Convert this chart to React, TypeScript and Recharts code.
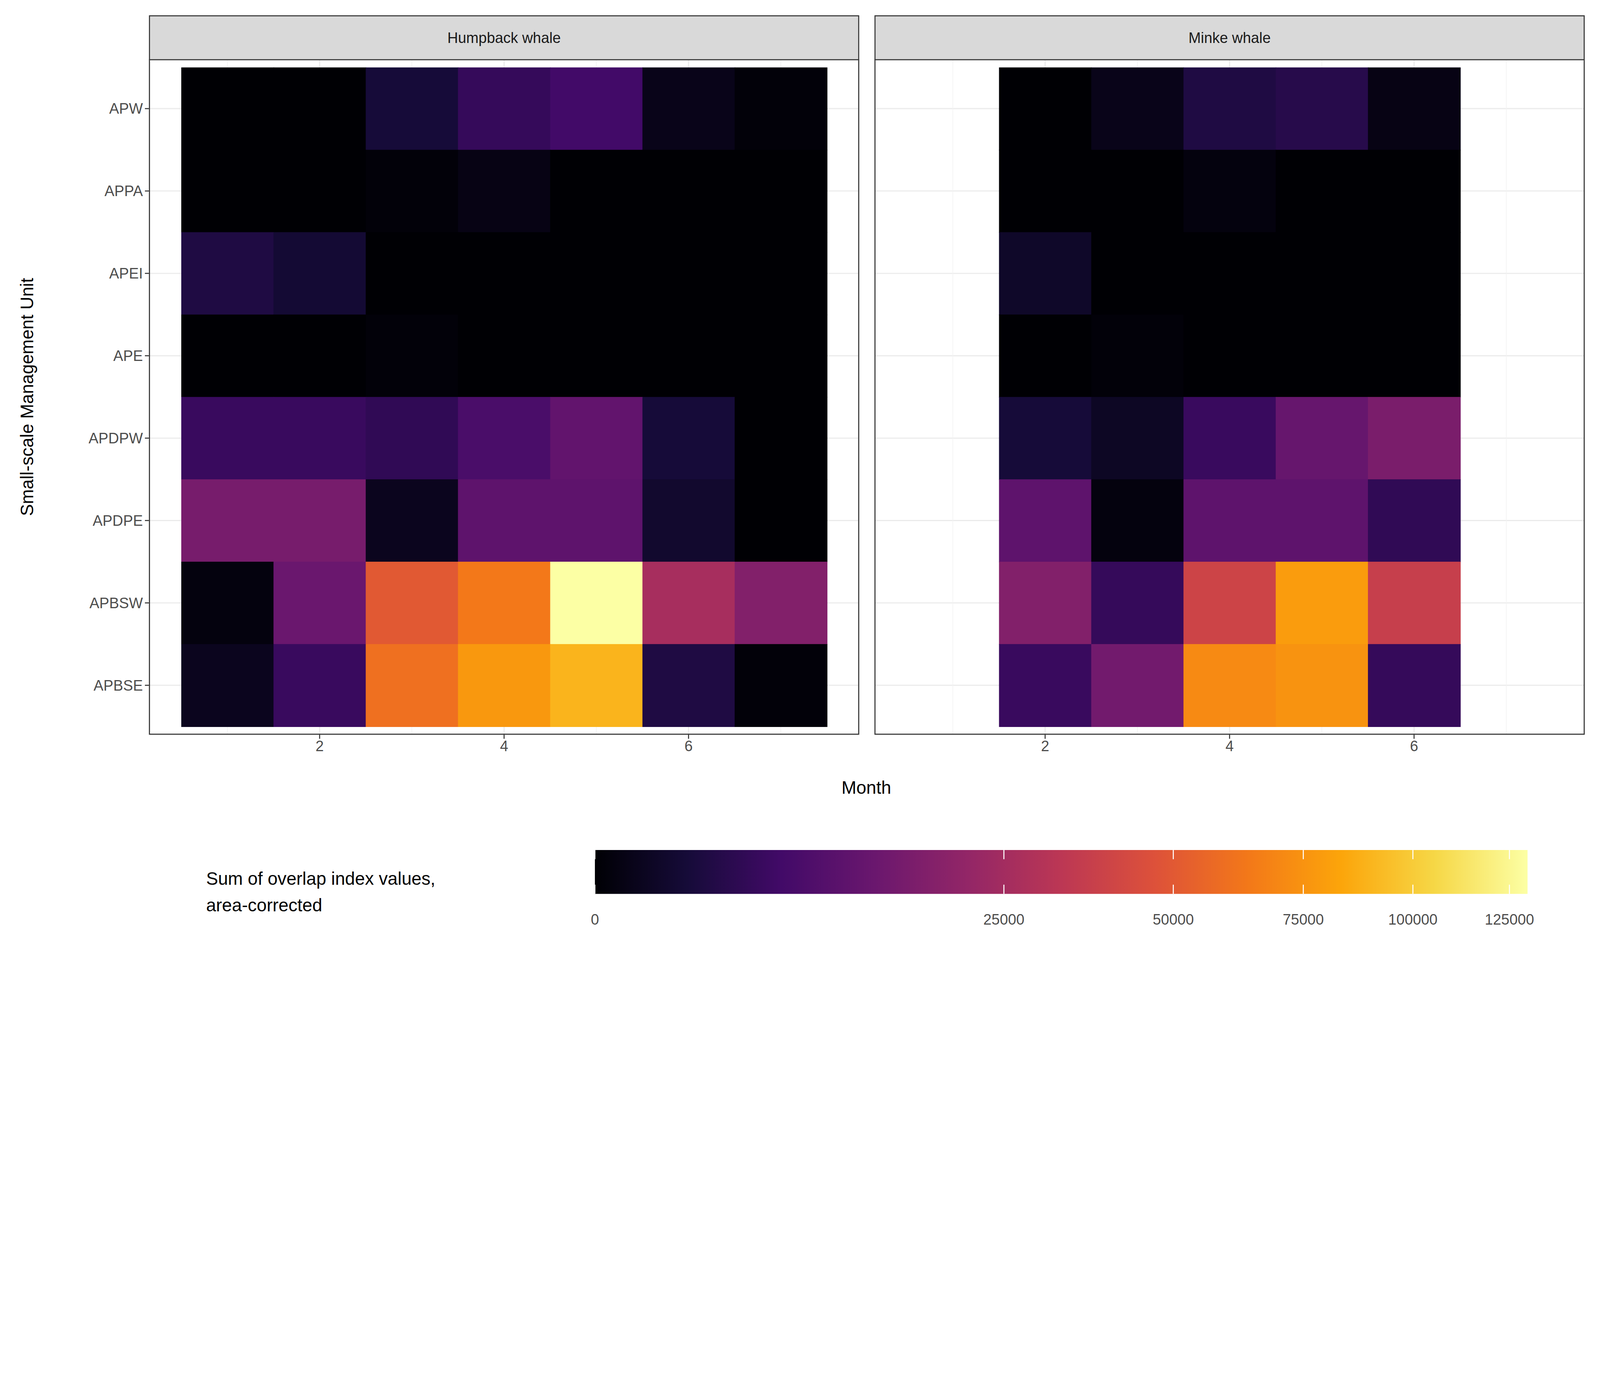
import React from 'react';
import { ScatterChart, Scatter, XAxis, YAxis, CartesianGrid, ReferenceLine } from 'recharts';

const units = ['APW', 'APPA', 'APEI', 'APE', 'APDPW', 'APDPE', 'APBSW', 'APBSE'];
const humpbackMonths = [1, 2, 3, 4, 5, 6, 7];
const minkeMonths = [2, 3, 4, 5, 6];

// rows follow units, columns follow months
const humpbackValues = [
  [0, 0, 1300, 3800, 5200, 200, 10],
  [0, 0, 10, 120, 0, 0, 0],
  [1900, 1050, 0, 0, 0, 0, 0],
  [0, 0, 10, 0, 0, 0, 0],
  [4200, 4200, 3300, 6300, 10200, 1300, 0],
  [14200, 14200, 320, 9500, 9500, 830, 0],
  [50, 11700, 50000, 63700, 130000, 26300, 16800],
  [320, 4200, 60100, 77100, 89600, 1900, 10],
];
const minkeValues = [
  [0, 200, 1900, 2500, 120],
  [0, 0, 50, 0, 0],
  [640, 0, 0, 0, 0],
  [0, 10, 0, 0, 0],
  [1300, 470, 4200, 10900, 15000],
  [9500, 50, 9500, 9500, 3300],
  [16800, 3800, 39300, 79100, 36500],
  [4200, 13300, 71200, 75100, 3800],
];

const MAX = 130000;
const inferno = ['#000004', '#160b39', '#420a68', '#6a176e', '#932667', '#bc3754',
  '#dd513a', '#f37819', '#fca50a', '#f6d746', '#fcffa4'];

function mix(a: string, b: string, f: number) {
  const pa = [1, 3, 5].map((i) => parseInt(a.slice(i, i + 2), 16));
  const pb = [1, 3, 5].map((i) => parseInt(b.slice(i, i + 2), 16));
  return `rgb(${pa.map((v, i) => Math.round(v + (pb[i] - v) * f)).join(',')})`;
}
function colorFor(v: number) {
  const t = Math.min(1, Math.sqrt(v / MAX)) * 10;
  const i = Math.min(9, Math.floor(t));
  return mix(inferno[i], inferno[i + 1], t - i);
}

function toPoints(months: number[], values: number[][]) {
  const pts: { month: number; unit: number; value: number }[] = [];
  values.forEach((row, r) => row.forEach((v, c) => pts.push({ month: months[c], unit: r + 1, value: v })));
  return pts;
}
const humpbackData = toPoints(humpbackMonths, humpbackValues);
const minkeData = toPoints(minkeMonths, minkeValues);

const PLOT_W = 696;
const PLOT_H = 662;
const X_DOM: [number, number] = [0.15, 7.85];
const Y_DOM: [number, number] = [0.4, 8.6];
const CELL_W = PLOT_W / (X_DOM[1] - X_DOM[0]);
const CELL_H = PLOT_H / (Y_DOM[1] - Y_DOM[0]);
const FONT = 'Liberation Sans, Arial, sans-serif';

const Tile = (p: any) => (
  <rect x={p.cx - CELL_W / 2} y={p.cy - CELL_H / 2} width={CELL_W + 0.5} height={CELL_H + 0.5}
    fill={colorFor(p.payload.value)} />
);

const Panel: React.FC<{ data: any[]; showY: boolean; left: number; width: number; title: string }> =
  ({ data, showY, left, width, title }) => {
    const plotLeft = showY ? 146 : left + 8;
    return (
      <>
        <div style={{ position: 'absolute', left, top: 0 }}>
          <ScatterChart width={width} height={760}
            margin={{ top: 58, right: 8, bottom: 10, left: showY ? 0 : 8 }}>
            <CartesianGrid stroke="#ebebeb" strokeWidth={1.1} />
            {[1, 3, 5, 7].map((m) => (
              <ReferenceLine key={m} x={m} stroke="#f2f2f2" strokeWidth={0.6} />
            ))}
            <XAxis type="number" dataKey="month" domain={X_DOM} ticks={[2, 4, 6]} height={30}
              tickLine={{ stroke: '#333' }} tickSize={4} axisLine={false}
              tick={{ fill: '#4d4d4d', fontSize: 14.5, fontFamily: FONT }} allowDataOverflow />
            <YAxis type="number" dataKey="unit" domain={Y_DOM} ticks={[1, 2, 3, 4, 5, 6, 7, 8]}
              reversed hide={!showY} width={showY ? 146 : 0} tickSize={4}
              tickLine={{ stroke: '#333' }} axisLine={false}
              tickFormatter={(i: number) => units[i - 1]}
              tick={{ fill: '#4d4d4d', fontSize: 14.5, fontFamily: FONT }} allowDataOverflow />
            <Scatter data={data} shape={Tile} isAnimationActive={false} />
          </ScatterChart>
        </div>
        <div style={{ position: 'absolute', left: plotLeft, top: 58, width: PLOT_W, height: PLOT_H,
          border: '1px solid #333', boxSizing: 'border-box', pointerEvents: 'none' }} />
        <div style={{ position: 'absolute', left: plotLeft, top: 15, width: PLOT_W, height: 44,
          background: '#d9d9d9', border: '1px solid #333', boxSizing: 'border-box',
          display: 'flex', alignItems: 'center', justifyContent: 'center',
          fontFamily: FONT, fontSize: 14.5, color: '#1a1a1a' }}>{title}</div>
      </>
    );
  };

const legendTicks = [0, 25000, 50000, 75000, 100000, 125000];
const BAR_X = 583;
const BAR_W = 914;

const Legend: React.FC = () => (
  <svg width={1568} height={140} style={{ position: 'absolute', left: 0, top: 800 }}>
    <defs>
      <linearGradient id="inf" x1="0" x2="1" y1="0" y2="0">
        {inferno.map((c, i) => <stop key={i} offset={i / 10} stopColor={c} />)}
      </linearGradient>
    </defs>
    <text x={202} y={67} fontFamily={FONT} fontSize={17.5}>Sum of overlap index values,</text>
    <text x={202} y={93} fontFamily={FONT} fontSize={17.5}>area-corrected</text>
    <rect x={BAR_X} y={33} width={BAR_W} height={43} fill="url(#inf)" />
    {legendTicks.map((v) => {
      const x = BAR_X + BAR_W * Math.sqrt(v / MAX);
      return (
        <g key={v}>
          <line x1={x} x2={x} y1={33} y2={42} stroke="#fff" />
          <line x1={x} x2={x} y1={67} y2={76} stroke="#fff" />
          <text x={x} y={106} textAnchor="middle" fontFamily={FONT} fontSize={14.5} fill="#4d4d4d">{v}</text>
        </g>
      );
    })}
  </svg>
);

const App: React.FC = () => {
  const scale = (typeof window !== 'undefined' ? window.innerWidth : 5905) / 1568;
  return (
    <div style={{ position: 'fixed', left: 0, top: 0, width: 1568, height: 941, background: '#fff',
      transform: `scale(${scale})`, transformOrigin: '0 0', overflow: 'hidden' }}>
      <Panel data={humpbackData} showY left={0} width={850} title="Humpback whale" />
      <Panel data={minkeData} showY={false} left={849} width={712} title="Minke whale" />
      <div style={{ position: 'absolute', left: 849, top: 762, transform: 'translateX(-50%)',
        fontFamily: FONT, fontSize: 17.5 }}>Month</div>
      <div style={{ position: 'absolute', left: 27, top: 389, transform: 'translate(-50%,-50%) rotate(-90deg)',
        fontFamily: FONT, fontSize: 17.5, whiteSpace: 'nowrap' }}>Small-scale Management Unit</div>
      <Legend />
    </div>
  );
};

export default App;
